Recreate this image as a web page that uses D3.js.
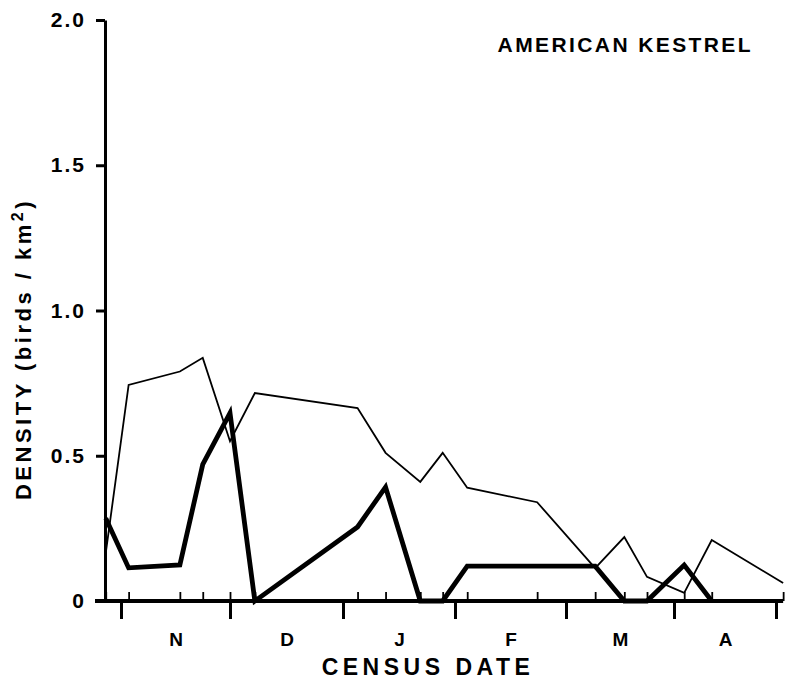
<!DOCTYPE html>
<html>
<head>
<meta charset="utf-8">
<script src="https://cdn.jsdelivr.net/npm/d3@7/dist/d3.min.js"></script>
<style>
  body { margin: 0; background: #fff; }
  svg { display: block; font-family: "Liberation Sans", Arial, sans-serif; font-weight: bold; }
</style>
</head>
<body>
<script>
// census dates as month positions (0 = start of November)
const months = ["N", "D", "J", "F", "M", "A"];
const censusDates = [-0.14, 0.07, 0.54, 0.75, 1.0, 1.22, 2.13, 2.38, 2.69, 2.89, 3.11, 3.74, 4.27, 4.54, 4.75, 5.10, 5.37, 6.07];
// density, birds / km2 (null = no point drawn)
const densityThin  = [0.165, 0.744, 0.79, 0.837, 0.55, 0.716, 0.664, 0.51, 0.41, 0.51, 0.39, 0.34, 0.113, 0.22, 0.083, 0.028, 0.21, 0.062];
const densityThick = [0.285, 0.114, 0.124, 0.47, 0.647, 0, 0.255, 0.392, 0, 0, 0.12, 0.12, 0.12, 0, 0, 0.124, 0, null];
const yTicks = [0, 0.5, 1.0, 1.5, 2.0];

const svgWidth = 785;
const svgHeight = 680;
const yAxisX = 105;
// month boundaries on the page (Nov 1 ... May 1)
const monthEdges = [121, 230, 343, 455, 566, 674, 776];

const svg = d3.select("body")
  .append("svg")
  .attr("width", svgWidth)
  .attr("height", svgHeight);

const x = d3.scaleLinear()
  .domain(d3.range(monthEdges.length))
  .range(monthEdges);

const y = d3.scaleLinear()
  .domain([0, 2])
  .range([601, 20]);

// y axis
const gY = svg.append("g")
  .attr("transform", "translate(" + yAxisX + ",0)")
  .call(d3.axisLeft(y)
    .tickValues(yTicks)
    .tickSize(9)
    .tickSizeOuter(0)
    .tickPadding(10)
    .tickFormat(d => d === 0 ? "0" : d3.format(".1f")(d)));
gY.select(".domain").attr("stroke-width", 3);
gY.selectAll(".tick line").attr("stroke-width", 3);
gY.selectAll(".tick text")
  .attr("font-size", 21)
  .attr("font-family", "Liberation Sans, Arial, sans-serif")
  .attr("font-weight", "bold")
  .attr("letter-spacing", 2)
  .attr("fill", "#000");

// baseline
svg.append("line")
  .attr("x1", yAxisX - 10)
  .attr("x2", x(d3.max(censusDates)))
  .attr("y1", y(0))
  .attr("y2", y(0))
  .attr("stroke", "#000")
  .attr("stroke-width", 4);

// month boundaries
const gMonth = svg.append("g")
  .attr("transform", "translate(0," + y(0) + ")")
  .call(d3.axisBottom(x).tickValues(d3.range(monthEdges.length)).tickSize(18).tickFormat(""));
gMonth.select(".domain").remove();
gMonth.selectAll(".tick line").attr("stroke-width", 3);

// census date ticks
const gCensus = svg.append("g")
  .attr("transform", "translate(0," + y(0) + ")")
  .call(d3.axisTop(x).tickValues(censusDates).tickSize(9).tickFormat(""));
gCensus.select(".domain").remove();
gCensus.selectAll(".tick line").attr("stroke-width", 1.8);

// month letters
const gLabels = svg.append("g")
  .attr("transform", "translate(0," + y(0) + ")")
  .call(d3.axisBottom(x)
    .tickValues(months.map((m, i) => i + 0.5))
    .tickSize(0)
    .tickPadding(32)
    .tickFormat((d, i) => months[i]));
gLabels.select(".domain").remove();
gLabels.selectAll(".tick text")
  .attr("font-size", 19)
  .attr("font-family", "Liberation Sans, Arial, sans-serif")
  .attr("font-weight", "bold")
  .attr("fill", "#000");

// data lines
const line = d3.line()
  .defined(d => d !== null)
  .x((d, i) => x(censusDates[i]))
  .y(d => y(d));

svg.append("path")
  .datum(densityThin)
  .attr("fill", "none")
  .attr("stroke", "#000")
  .attr("stroke-width", 1.8)
  .attr("d", line);

svg.append("path")
  .datum(densityThick)
  .attr("fill", "none")
  .attr("stroke", "#000")
  .attr("stroke-width", 4.8)
  .attr("stroke-linejoin", "miter")
  .attr("d", line);

// axis titles
svg.append("text")
  .attr("x", 428)
  .attr("y", 675)
  .attr("text-anchor", "middle")
  .attr("font-size", 23)
  .attr("letter-spacing", 4.5)
  .text("CENSUS DATE");

const yLabel = svg.append("text")
  .attr("transform", "translate(31,349) rotate(-90)")
  .attr("text-anchor", "middle")
  .attr("font-size", 22)
  .attr("letter-spacing", 3.5);
yLabel.append("tspan").text("DENSITY (birds / km");
yLabel.append("tspan").attr("dy", -8).attr("font-size", 16).text("2");
yLabel.append("tspan").attr("dy", 8).text(")");

svg.append("text")
  .attr("x", 753)
  .attr("y", 52)
  .attr("text-anchor", "end")
  .attr("font-size", 21)
  .attr("letter-spacing", 2.4)
  .text("AMERICAN KESTREL");
</script>
</body>
</html>
